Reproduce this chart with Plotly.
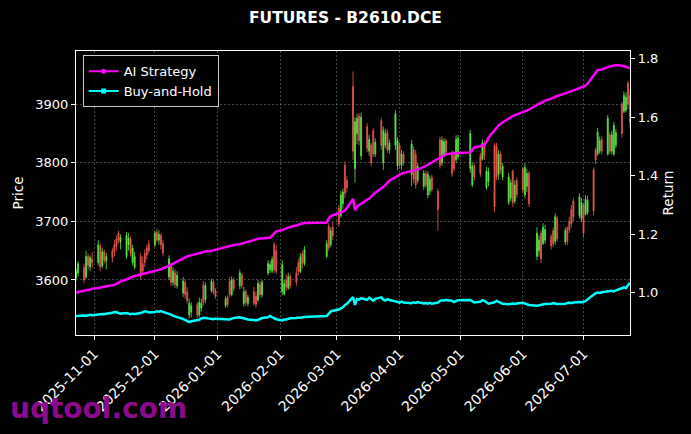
### 시각화 라이브러리 불러들이기
import plotly.graph_objects as go

### 거래일 (월, 일자)
TRADING_MONTHS = ["2025-10", "2025-11", "2025-12", "2026-01", "2026-02",
                  "2026-03", "2026-04", "2026-05", "2026-06", "2026-07"]
TRADING_DAYS = [
    [23, 24, 27, 28, 29, 30, 31],
    [3, 4, 5, 6, 7, 10, 11, 12, 13, 14, 17, 18, 19, 20, 21, 24, 25, 26, 27, 28],
    [1, 2, 3, 4, 5, 8, 9, 10, 11, 12, 15, 16, 17, 18, 19, 22, 23, 24, 25, 26, 29, 30, 31],
    [5, 6, 7, 8, 9, 12, 13, 14, 15, 16, 19, 20, 21, 22, 23, 26, 27, 28, 29, 30],
    [2, 3, 4, 5, 6, 9, 10, 11, 12, 13, 24, 25, 26, 27],
    [2, 3, 4, 5, 6, 9, 10, 11, 12, 13, 16, 17, 18, 19, 20, 23, 24, 25, 26, 27, 30, 31],
    [1, 2, 3, 7, 8, 9, 10, 13, 14, 15, 16, 17, 20, 21, 22, 23, 24, 27, 28, 29, 30],
    [6, 7, 8, 11, 12, 13, 14, 15, 18, 19, 20, 21, 22, 25, 26, 27, 28, 29],
    [1, 2, 3, 4, 8, 9, 10, 11, 12, 15, 16, 17, 18, 22, 23, 24, 25, 26, 29, 30],
    [1, 2, 3, 6, 7, 8, 9, 10, 13, 14, 15, 16, 17, 20, 21, 22, 23, 24],
]

### 시가 / 고가 / 저가 / 종가
OPEN = [
    3603, 3612, 3622, 3605, 3640, 3622, 3636,
    3630, 3658, 3624, 3648, 3632, 3650, 3660, 3670, 3680, 3665, 3640, 3660, 3670, 3630, 3622, 3640, 3628, 3645, 3655, 3662,
    3660, 3682, 3668, 3676, 3662, 3605, 3625, 3596, 3612, 3590, 3578, 3596, 3580, 3540, 3545, 3558, 3540, 3552, 3592, 3566, 3582, 3596, 3582,
    3556, 3570, 3598, 3575, 3600, 3590, 3608, 3560, 3580, 3560, 3580, 3572, 3566, 3592, 3575, 3612, 3618, 3615, 3660, 3650,
    3580, 3576, 3600, 3586, 3606, 3612, 3630, 3614, 3645, 3628, 3640, 3692, 3660, 3690,
    3722, 3710, 3730, 3796, 3770, 3930, 3790, 3850, 3880, 3812, 3862, 3820, 3830, 3855, 3815, 3872, 3800, 3830, 3852, 3822, 3830, 3795,
    3830, 3796, 3815, 3780, 3822, 3815, 3770, 3760, 3782, 3745, 3752, 3775, 3752, 3840, 3800, 3815, 3838, 3818, 3812, 3805, 3810,
    3790, 3762, 3795, 3812, 3806, 3834, 3758, 3768, 3830, 3828, 3780, 3815, 3776, 3732, 3740, 3786, 3735, 3770,
    3790, 3745, 3760, 3782, 3640, 3650, 3680, 3662, 3668, 3674, 3684, 3666, 3705, 3665, 3688, 3700, 3720, 3735, 3710, 3705,
    3728, 3712, 3715, 3788, 3822, 3815, 3820, 3840, 3815, 3848, 3820, 3815, 3830, 3900, 3888, 3890, 3936, 3915,
]
HIGH = [
    3620, 3632, 3628, 3650, 3645, 3642, 3648,
    3668, 3662, 3655, 3652, 3646, 3655, 3668, 3676, 3684, 3678, 3682, 3680, 3675, 3660, 3648, 3646, 3640, 3652, 3660, 3668,
    3684, 3688, 3685, 3680, 3668, 3642, 3630, 3622, 3618, 3615, 3605, 3600, 3588, 3568, 3562, 3562, 3570, 3568, 3598, 3596, 3602, 3600, 3586,
    3572, 3574, 3605, 3606, 3604, 3618, 3612, 3588, 3584, 3575, 3588, 3580, 3600, 3598, 3600, 3634, 3632, 3640, 3665, 3660,
    3634, 3600, 3610, 3612, 3610, 3622, 3636, 3646, 3650, 3658, 3668, 3697, 3690, 3700,
    3728, 3752, 3756, 3802, 3778, 3956, 3878, 3884, 3885, 3886, 3868, 3848, 3834, 3860, 3842, 3877, 3862, 3858, 3857, 3840, 3890, 3844,
    3835, 3822, 3820, 3839, 3828, 3822, 3800, 3788, 3786, 3786, 3778, 3780, 3756, 3845, 3845, 3842, 3842, 3822, 3820, 3847, 3848,
    3856, 3800, 3800, 3817, 3840, 3838, 3793, 3792, 3834, 3834, 3822, 3820, 3800, 3783, 3772, 3788, 3770, 3775,
    3792, 3800, 3790, 3786, 3690, 3676, 3685, 3697, 3694, 3678, 3690, 3714, 3710, 3690, 3692, 3708, 3728, 3740, 3748, 3740,
    3732, 3745, 3744, 3792, 3826, 3860, 3845, 3845, 3882, 3852, 3855, 3870, 3858, 3904, 3922, 3920, 3940, 3925,
]
LOW = [
    3598, 3606, 3594, 3602, 3618, 3615, 3620,
    3625, 3615, 3620, 3628, 3618, 3630, 3640, 3650, 3662, 3652, 3636, 3650, 3640, 3625, 3618, 3600, 3608, 3622, 3635, 3645,
    3656, 3664, 3660, 3652, 3640, 3600, 3590, 3590, 3586, 3585, 3571, 3568, 3560, 3535, 3536, 3534, 3536, 3546, 3556, 3560, 3578, 3575, 3568,
    3552, 3553, 3570, 3572, 3580, 3584, 3585, 3554, 3556, 3555, 3556, 3552, 3562, 3570, 3570, 3608, 3612, 3612, 3612, 3610,
    3574, 3574, 3582, 3583, 3585, 3590, 3608, 3612, 3620, 3624, 3638, 3650, 3656, 3668,
    3690, 3706, 3722, 3740, 3750, 3805, 3766, 3832, 3830, 3805, 3818, 3812, 3794, 3810, 3810, 3822, 3788, 3825, 3817, 3815, 3822, 3788,
    3790, 3788, 3795, 3760, 3765, 3756, 3765, 3754, 3758, 3740, 3745, 3750, 3684, 3790, 3795, 3810, 3812, 3776, 3785, 3800, 3806,
    3783, 3758, 3770, 3776, 3804, 3805, 3754, 3760, 3715, 3770, 3771, 3782, 3770, 3728, 3735, 3725, 3730, 3740,
    3748, 3740, 3750, 3725, 3634, 3640, 3629, 3660, 3662, 3652, 3656, 3660, 3665, 3660, 3660, 3680, 3690, 3700, 3705, 3699,
    3672, 3710, 3711, 3710, 3798, 3812, 3815, 3814, 3812, 3815, 3814, 3812, 3825, 3843, 3885, 3886, 3892, 3860,
]
CLOSE = [
    3615, 3628, 3600, 3640, 3625, 3638, 3630,
    3660, 3622, 3648, 3634, 3640, 3638, 3648, 3658, 3668, 3672, 3676, 3672, 3646, 3654, 3640, 3606, 3615, 3630, 3642, 3650,
    3680, 3668, 3678, 3660, 3646, 3636, 3596, 3615, 3592, 3608, 3598, 3575, 3565, 3560, 3556, 3540, 3562, 3560, 3562, 3590, 3598, 3580, 3572,
    3568, 3558, 3575, 3600, 3585, 3612, 3590, 3580, 3562, 3570, 3560, 3558, 3594, 3575, 3596, 3628, 3626, 3635, 3618, 3615,
    3626, 3594, 3588, 3606, 3590, 3596, 3614, 3640, 3628, 3652, 3662, 3655, 3684, 3676,
    3696, 3745, 3750, 3748, 3758, 3820, 3870, 3876, 3838, 3878, 3825, 3840, 3800, 3815, 3835, 3830, 3855, 3850, 3822, 3834, 3884, 3838,
    3796, 3815, 3800, 3832, 3772, 3762, 3794, 3782, 3762, 3780, 3772, 3755, 3720, 3796, 3838, 3836, 3818, 3782, 3790, 3840, 3842,
    3850, 3794, 3776, 3782, 3834, 3812, 3786, 3785, 3725, 3776, 3815, 3788, 3794, 3776, 3766, 3732, 3762, 3746,
    3754, 3792, 3782, 3730, 3680, 3668, 3636, 3690, 3686, 3658, 3662, 3708, 3670, 3684, 3666, 3686, 3696, 3708, 3742, 3732,
    3680, 3738, 3736, 3718, 3805, 3852, 3838, 3820, 3876, 3820, 3848, 3864, 3852, 3850, 3915, 3912, 3900, 3870,
]

### 누적 수익률 (오른쪽 축)
AI_STRATEGY = [
    1.000, 1.002, 1.006, 1.008, 1.010, 1.011, 1.013,
    1.016, 1.018, 1.020, 1.021, 1.022, 1.025, 1.027, 1.030, 1.034, 1.038, 1.045, 1.049, 1.052, 1.055, 1.057, 1.061, 1.063, 1.066, 1.067, 1.069,
    1.073, 1.076, 1.078, 1.080, 1.083, 1.090, 1.094, 1.098, 1.103, 1.107, 1.118, 1.121, 1.124, 1.126, 1.128, 1.133, 1.136, 1.138, 1.140, 1.141, 1.143, 1.145, 1.146,
    1.155, 1.158, 1.160, 1.161, 1.163, 1.166, 1.168, 1.170, 1.174, 1.176, 1.180, 1.182, 1.184, 1.185, 1.186, 1.187, 1.188, 1.195, 1.204, 1.210,
    1.214, 1.217, 1.220, 1.222, 1.225, 1.230, 1.233, 1.235, 1.237, 1.238, 1.240, 1.255, 1.262, 1.265,
    1.270, 1.272, 1.276, 1.282, 1.290, 1.321, 1.282, 1.295, 1.300, 1.306, 1.318, 1.322, 1.330, 1.336, 1.342, 1.355, 1.362, 1.368, 1.376, 1.384, 1.395, 1.400,
    1.404, 1.407, 1.410, 1.415, 1.417, 1.419, 1.421, 1.430, 1.434, 1.438, 1.443, 1.447, 1.460, 1.464, 1.468, 1.472, 1.474, 1.476, 1.476, 1.477, 1.478,
    1.480, 1.490, 1.497, 1.501, 1.503, 1.506, 1.515, 1.530, 1.556, 1.565, 1.572, 1.578, 1.583, 1.596, 1.600, 1.604, 1.607, 1.610,
    1.618, 1.620, 1.623, 1.626, 1.643, 1.647, 1.650, 1.654, 1.657, 1.664, 1.667, 1.670, 1.673, 1.682, 1.685, 1.687, 1.690, 1.692, 1.700, 1.703,
    1.705, 1.708, 1.715, 1.742, 1.755, 1.762, 1.763, 1.764, 1.772, 1.774, 1.776, 1.778, 1.779, 1.777, 1.776, 1.773, 1.771, 1.768,
]
BUY_AND_HOLD = [
    0.920, 0.921, 0.922, 0.921, 0.923, 0.924, 0.923,
    0.926, 0.925, 0.927, 0.926, 0.928, 0.931, 0.934, 0.933, 0.930, 0.928, 0.930, 0.929, 0.926, 0.928, 0.927, 0.930, 0.933, 0.936, 0.935, 0.932,
    0.934, 0.936, 0.935, 0.937, 0.934, 0.928, 0.925, 0.921, 0.918, 0.916, 0.910, 0.906, 0.902, 0.899, 0.902, 0.905, 0.907, 0.912, 0.914, 0.913, 0.910, 0.909, 0.911,
    0.910, 0.909, 0.908, 0.911, 0.913, 0.916, 0.914, 0.911, 0.909, 0.908, 0.906, 0.905, 0.907, 0.910, 0.913, 0.916, 0.920, 0.916, 0.912, 0.909,
    0.905, 0.908, 0.908, 0.910, 0.912, 0.913, 0.915, 0.914, 0.916, 0.917, 0.920, 0.930, 0.936, 0.938,
    0.942, 0.946, 0.950, 0.958, 0.962, 0.985, 0.958, 0.978, 0.976, 0.981, 0.975, 0.983, 0.977, 0.972, 0.979, 0.984, 0.976, 0.973, 0.978, 0.975, 0.970, 0.968,
    0.966, 0.969, 0.966, 0.964, 0.967, 0.965, 0.968, 0.963, 0.964, 0.962, 0.965, 0.962, 0.966, 0.972, 0.974, 0.973, 0.975, 0.972, 0.968, 0.972, 0.974,
    0.975, 0.971, 0.966, 0.969, 0.974, 0.972, 0.968, 0.962, 0.967, 0.972, 0.968, 0.964, 0.962, 0.960, 0.961, 0.963, 0.961, 0.963,
    0.965, 0.963, 0.961, 0.958, 0.955, 0.957, 0.959, 0.960, 0.961, 0.962, 0.964, 0.963, 0.961, 0.962, 0.964, 0.966, 0.964, 0.966, 0.968, 0.967,
    0.969, 0.971, 0.977, 0.995, 0.998, 1.000, 0.999, 1.001, 1.003, 1.005, 1.006, 1.004, 1.008, 1.015, 1.018, 1.016, 1.026, 1.034,
]

RETURN_TICKS = [1.0, 1.2, 1.4, 1.6, 1.8]
PRICE_TICKS = [3600, 3700, 3800, 3900]

### 날짜 문자열 만들기
dates = []
for month, days in zip(TRADING_MONTHS, TRADING_DAYS):
    for d in days:
        dates.append(f"{month}-{d:02d}")

assert len(dates) == len(OPEN) == len(HIGH) == len(LOW) == len(CLOSE)
assert len(dates) == len(AI_STRATEGY) == len(BUY_AND_HOLD)

GREEN = "#5ce64a"
RED = "#e8574f"
MAGENTA = "#ff00ff"
CYAN = "#00ffff"
GRID = "rgba(140,140,140,0.5)"

fig = go.Figure()

### 캔들 차트 (왼쪽 축)
fig.add_trace(go.Candlestick(
    x=dates, open=OPEN, high=HIGH, low=LOW, close=CLOSE,
    increasing=dict(line=dict(color=GREEN, width=0.8), fillcolor=GREEN),
    decreasing=dict(line=dict(color=RED, width=0.8), fillcolor=RED),
    whiskerwidth=0, showlegend=False, hoverinfo="skip",
))

### 수익률 곡선 (오른쪽 축)
fig.add_trace(go.Scatter(
    x=dates, y=AI_STRATEGY, yaxis="y2", mode="lines",
    line=dict(color=MAGENTA, width=2.5), showlegend=False,
))
fig.add_trace(go.Scatter(
    x=dates, y=BUY_AND_HOLD, yaxis="y2", mode="lines",
    line=dict(color=CYAN, width=2.5), showlegend=False,
))

### 범례 전용 항목
fig.add_trace(go.Scatter(
    x=[None], y=[None], yaxis="y2", mode="lines+markers", name="AI Strategy",
    line=dict(color=MAGENTA, width=2), marker=dict(symbol="circle", size=5, color=MAGENTA),
))
fig.add_trace(go.Scatter(
    x=[None], y=[None], yaxis="y2", mode="lines+markers", name="Buy-and-Hold",
    line=dict(color=CYAN, width=2), marker=dict(symbol="square", size=5, color=CYAN),
))

fig.update_layout(
    width=691, height=434,
    paper_bgcolor="black", plot_bgcolor="black",
    margin=dict(l=76, r=61, t=51, b=99, autoexpand=False),
    font=dict(family="DejaVu Sans", color="white", size=13),
    title=dict(text="<b>FUTURES - B2610.DCE</b>", x=0.5, xref="container", xanchor="center",
               y=1 - 18 / 434, yref="container", yanchor="middle",
               font=dict(size=15.5, color="white")),
    xaxis=dict(
        type="date", range=["2025-10-23", "2026-07-24"], automargin=False,
        rangeslider=dict(visible=False),
        tick0="2025-11-01", dtick="M1", tickformat="%Y-%m-%d", tickangle=-45,
        tickfont=dict(size=14),
        ticks="outside", ticklen=4, tickcolor="white",
        showline=True, linecolor="white", linewidth=1.2, mirror=True,
        showgrid=True, gridcolor=GRID, griddash="2px,2px", gridwidth=0.7,
        zeroline=False,
    ),
    yaxis=dict(
        range=[3506, 3991], tickvals=PRICE_TICKS, automargin=False,
        title=dict(text="Price", font=dict(size=13.5), standoff=8),
        ticks="outside", ticklen=4, tickcolor="white",
        showline=True, linecolor="white", linewidth=1.2,
        showgrid=True, gridcolor=GRID, griddash="2px,2px", gridwidth=0.7,
        zeroline=False,
    ),
    yaxis2=dict(
        range=[0.855, 1.827], tickvals=RETURN_TICKS, tickformat=".1f", automargin=False,
        overlaying="y", side="right",
        title=dict(text="Return", font=dict(size=13.5), standoff=6),
        ticks="outside", ticklen=4, tickcolor="white",
        showline=True, linecolor="white", linewidth=1.2,
        showgrid=False, zeroline=False,
    ),
    legend=dict(
        x=0.012, y=0.985, xanchor="left", yanchor="top",
        bgcolor="rgba(0,0,0,0.85)", bordercolor="#cccccc", borderwidth=1,
        font=dict(size=13, color="white"),
    ),
    showlegend=True,
)

### 워터마크
fig.add_annotation(
    text="<b>uqtool.com</b>", xref="paper", yref="paper",
    x=(8 - 76) / 554, y=(335 - 408) / 284, xanchor="left", yanchor="middle",
    showarrow=False, font=dict(size=28, color="#8c0a8c", family="DejaVu Sans"),
)

### 페이지 여백 없애고 저장 (툴바 숨김)
fig.write_html("out.html", config={"displayModeBar": False},
               post_script="document.body.style.margin='0';")
